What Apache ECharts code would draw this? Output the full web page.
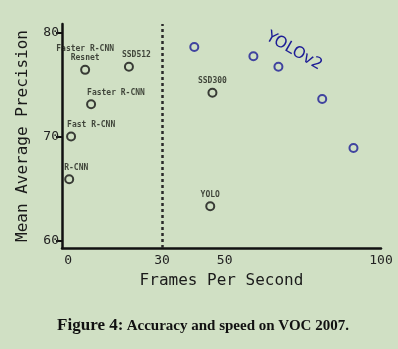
<!DOCTYPE html>
<html>
<head>
<meta charset="utf-8">
<script src="https://cdn.jsdelivr.net/npm/echarts@6/dist/echarts.min.js"></script>
<style>
html,body{margin:0;padding:0;background:#d0e0c4;}
#chart{width:398px;height:349px;}
</style>
</head>
<body>
<div id="chart"></div>
<script>
// ---- data ----
const otherNames = ['R-CNN', 'Fast R-CNN', 'Faster R-CNN', 'Faster R-CNN\nResnet', 'SSD512', 'SSD300', 'YOLO'];
const otherFps = [0.3, 0.9, 7.3, 5.4, 19.4, 46.1, 45.4];
const otherMap = [65.9, 70.0, 73.1, 76.4, 76.7, 74.2, 63.3];
const yolov2Fps = [40.3, 59.2, 67.2, 81.2, 91.2];
const yolov2Map = [78.6, 77.7, 76.7, 73.6, 68.9];
const xTickValues = [0, 30, 50, 100];
const yTickValues = [60, 70, 80];
const realtimeFps = 30;
const xTitle = 'Frames Per Second';
const yTitle = 'Mean Average Precision';
const yolov2Title = 'YOLOv2';
const captionHead = 'Figure 4:';
const captionBody = 'Accuracy and speed on VOC 2007.';

// ---- label layout (style only) ----
const labelLayout = {
  'R-CNN': {align: 'left', offset: [-5, 0]},
  'Fast R-CNN': {align: 'left', offset: [-4, 0]},
  'Faster R-CNN': {align: 'left', offset: [-4, 0]},
  'Faster R-CNN\nResnet': {align: 'center', offset: [0, 0]},
  'SSD512': {align: 'left', offset: [-7, 0]},
  'SSD300': {align: 'center', offset: [0, 0]},
  'YOLO': {align: 'center', offset: [0, 0]}
};

const mono = '"DejaVu Sans Mono", monospace';
const chart = echarts.init(document.getElementById('chart'));

const otherData = otherNames.map((n, i) => ({
  name: n,
  value: [otherFps[i], otherMap[i]],
  label: {
    show: true,
    formatter: n,
    position: 'top',
    distance: 2,
    align: labelLayout[n].align,
    offset: labelLayout[n].offset,
    fontFamily: mono,
    fontWeight: 'bold',
    fontSize: 8,
    lineHeight: 9,
    color: '#1a1d16'
  }
}));
const yoloData = yolov2Fps.map((f, i) => [f, yolov2Map[i]]);

chart.setOption({
  backgroundColor: '#d0e0c4',
  animation: false,
  grid: {left: 62, right: 17, top: 24, bottom: 101},
  xAxis: {
    type: 'value',
    min: -2, max: 100,
    name: xTitle,
    nameLocation: 'middle',
    nameGap: 25,
    nameTextStyle: {fontFamily: mono, fontSize: 16, color: '#1a1a1a'},
    axisLine: {onZero: false, lineStyle: {color: '#111', width: 2.5}},
    axisTick: {show: false},
    splitLine: {show: false},
    axisLabel: {customValues: xTickValues, fontFamily: mono, fontSize: 13, color: '#222', margin: 6}
  },
  yAxis: {
    type: 'value',
    min: 59.3, max: 80.8,
    name: yTitle,
    nameLocation: 'middle',
    nameGap: 31,
    nameTextStyle: {fontFamily: mono, fontSize: 16, color: '#1a1a1a'},
    axisLine: {onZero: false, lineStyle: {color: '#111', width: 2.5}},
    axisTick: {customValues: yTickValues, length: 6, lineStyle: {color: '#111', width: 2}},
    splitLine: {show: false},
    axisLabel: {customValues: yTickValues, fontFamily: mono, fontSize: 13, color: '#222', margin: 3}
  },
  series: [
    {
      type: 'scatter',
      data: otherData,
      symbol: 'circle',
      symbolSize: 8,
      itemStyle: {color: 'rgba(0,0,0,0)', borderColor: '#111', borderWidth: 2},
      markLine: {
        silent: true,
        symbol: 'none',
        label: {show: false},
        lineStyle: {color: '#2a2a2a', width: 2.5, type: [3, 3]},
        data: [{xAxis: realtimeFps}]
      }
    },
    {
      type: 'scatter',
      data: yoloData,
      symbol: 'circle',
      symbolSize: 8,
      itemStyle: {color: 'rgba(0,0,0,0)', borderColor: '#1c1c96', borderWidth: 2}
    }
  ],
  graphic: [
    {
      type: 'text',
      x: 294, y: 51,
      rotation: -0.52,
      style: {
        text: yolov2Title,
        fontFamily: '"DejaVu Sans", sans-serif',
        fontSize: 16,
        fill: '#1c1c96',
        align: 'center',
        verticalAlign: 'middle'
      }
    },
    {
      type: 'text',
      x: 203, y: 326,
      style: {
        text: '{a|' + captionHead + '} {b|' + captionBody + '}',
        align: 'center',
        verticalAlign: 'middle',
        rich: {
          a: {fontFamily: '"Liberation Serif", serif', fontWeight: 'bold', fontSize: 17, fill: '#111'},
          b: {fontFamily: '"Liberation Serif", serif', fontWeight: 'bold', fontSize: 15, fill: '#111'}
        }
      }
    }
  ]
});
</script>
</body>
</html>
